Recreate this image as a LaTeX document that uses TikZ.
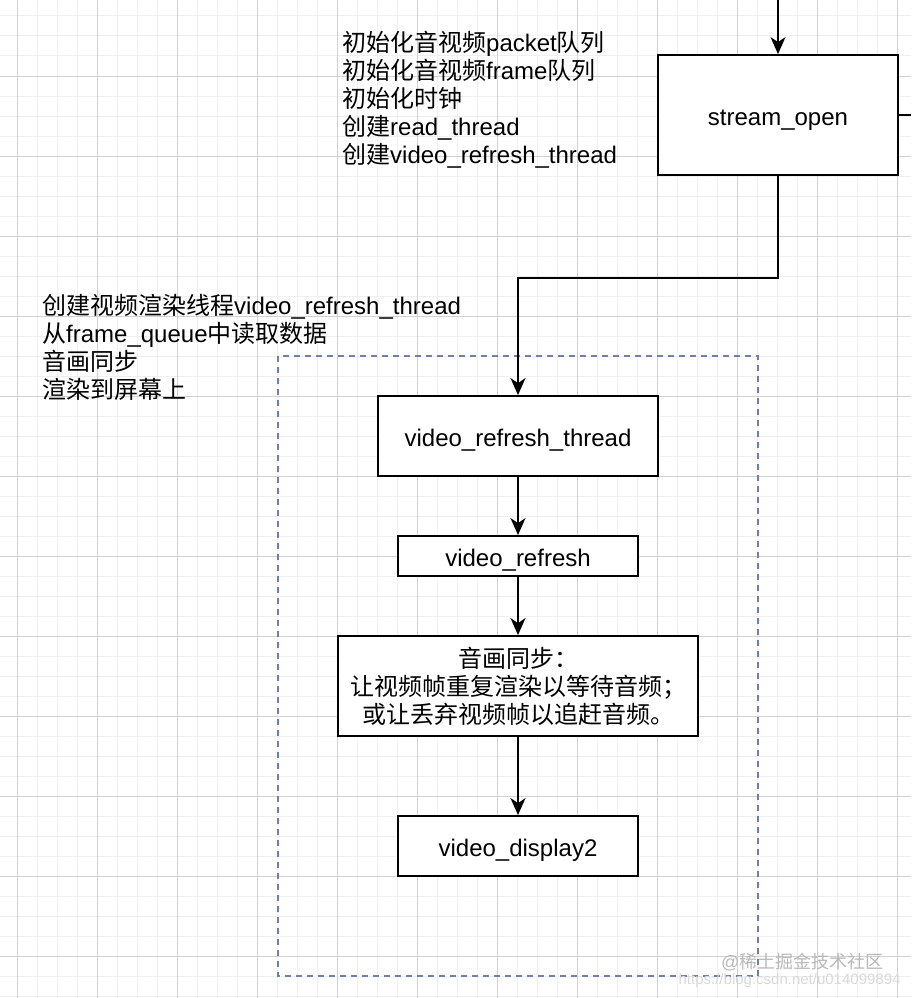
\documentclass[tikz,border=0pt]{standalone}
\usepackage{fontspec}
\setmainfont{Liberation Sans}
\newfontfamily\cjk{Noto Sans CJK SC}
\usetikzlibrary{arrows.meta}

\definecolor{gridminor}{HTML}{EFEFEF}
\definecolor{gridmajor}{HTML}{D2D2D2}
\definecolor{dashblue}{HTML}{6F7FA8}

\begin{document}
\begin{tikzpicture}[x=1pt,y=-1pt,
		box/.style={draw, line width=1.8pt, fill=white, inner sep=0pt, font=\fontsize{24}{28}\selectfont},
		onebox/.style={box, text height=24pt, text depth=3pt},
		flow/.style={-{Stealth[length=17pt,width=15pt,inset=5pt]}, line width=1.8pt},
		note/.style={anchor=north west, inner sep=0pt, align=left, font=\fontsize{24}{28}\selectfont}]
		\useasboundingbox (0,0) rectangle (911,998);
		\fill[white] (0,0) rectangle (911,998);

		% grid
		\foreach \x in {17,37,...,911} \draw[gridminor, line width=1pt] (\x,0) -- (\x,998);
		\foreach \y in {16,36,...,998} \draw[gridminor, line width=1pt] (0,\y) -- (911,\y);
		\foreach \x in {17,97,...,911} \draw[gridmajor, line width=1pt] (\x,0) -- (\x,998);
		\foreach \y in {76,156,...,998} \draw[gridmajor, line width=1pt] (0,\y) -- (911,\y);

		% dashed frame
		\draw[dashblue, line width=1.5pt, dash pattern=on 6pt off 5pt] (278,356) rectangle (758,976);

		\node (so) [onebox, minimum width=240pt, minimum height=120pt] at (778,115) {stream\_open};
		\node (vrt) [onebox, minimum width=280pt, minimum height=80pt] at (518,436) {video\_refresh\_thread};
		\node (vr) [onebox, minimum width=240pt, minimum height=40pt] at (518,556) {video\_refresh};
		\node (sync) [box, align=center, minimum width=360pt, minimum height=100pt] at (518,686) {{\cjk 音画同步：}\\{\cjk 让视频帧重复渲染以等待音频；}\\{\cjk 或让丢弃视频帧以追赶音频。}};
		\node (vd) [onebox, minimum width=240pt, minimum height=60pt] at (518,846) {video\_display2};

		\coordinate (top) at (778,0);
		\coordinate (out) at (911,115);
		\draw[flow] (top) -- (so.north);
		\draw[line width=1.8pt] (so.east) -- (out);
		\draw[flow] (so.south) |- (518,278) -- (vrt.north);
		\draw[flow] (vrt) -- (vr);
		\draw[flow] (vr) -- (sync);
		\draw[flow] (sync) -- (vd);

		\node (initnote) [note] at (342,31) {{\cjk 初始化音视频}packet{\cjk 队列}\\{\cjk 初始化音视频}frame{\cjk 队列}\\{\cjk 初始化时钟}\\{\cjk 创建}read\_thread\\{\cjk 创建}video\_refresh\_thread};
		\node (vrtnote) [note] at (42,294) {{\cjk 创建视频渲染线程}video\_refresh\_thread\\{\cjk 从}frame\_queue{\cjk 中读取数据}\\{\cjk 音画同步}\\{\cjk 渲染到屏幕上}};

		\node (mark) [gray!55, font=\fontsize{18}{20}\selectfont, anchor=east] at (887,962) {@{\cjk 稀土掘金技术社区}};
		\node (url) [gray!30, font=\fontsize{15}{18}\selectfont, anchor=east] at (904,981) {https://blog.csdn.net/u014099894};
	\end{tikzpicture}
\end{document}
